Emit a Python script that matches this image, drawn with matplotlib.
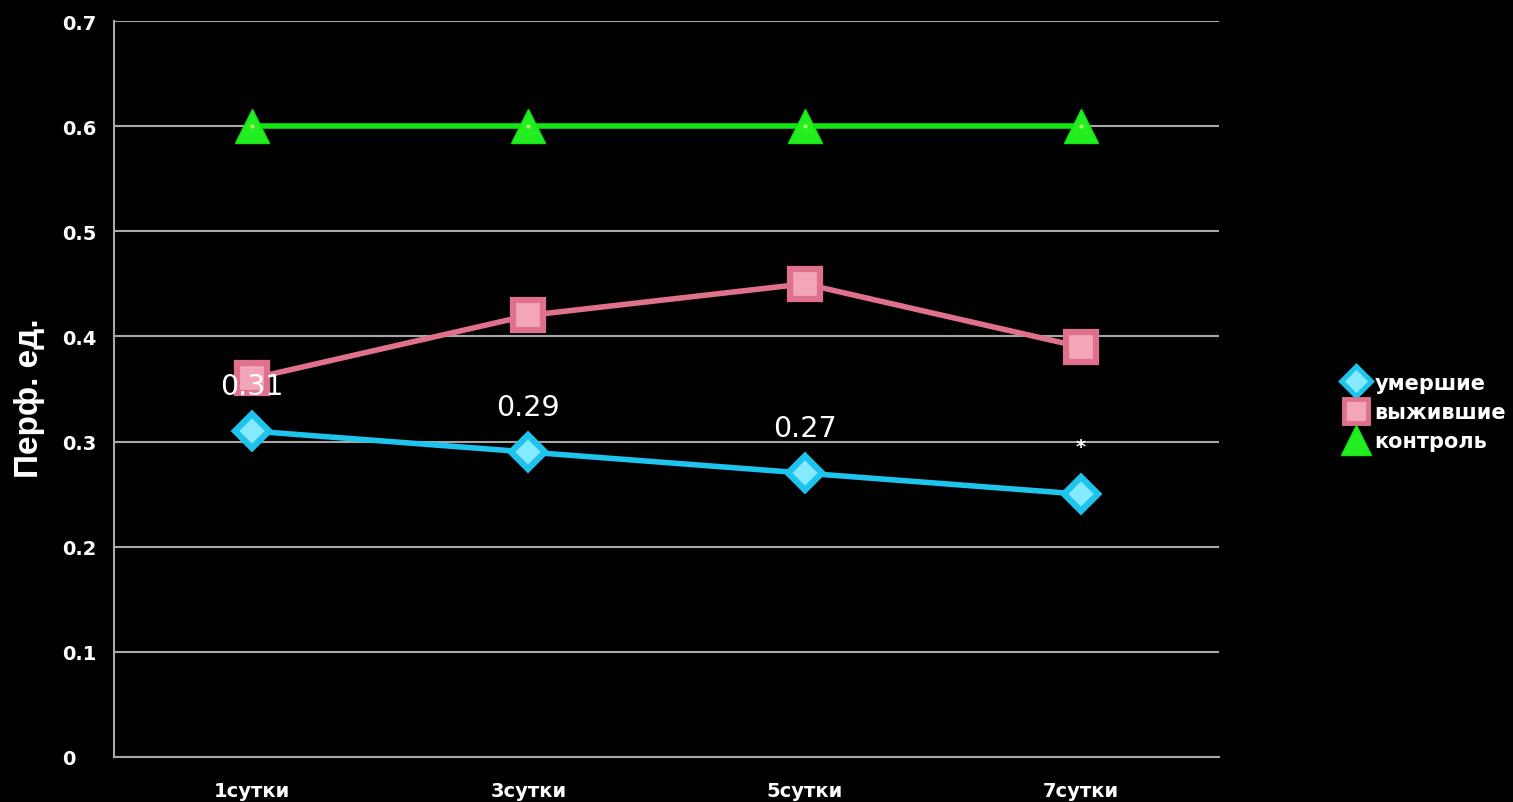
import matplotlib
matplotlib.use("Agg")
import matplotlib.pyplot as plt
from matplotlib.lines import Line2D

categories = ["1сутки", "3сутки", "5сутки", "7сутки"]
died = [0.31, 0.29, 0.27, 0.25]
survived = [0.36, 0.42, 0.45, 0.39]
control = [0.6, 0.6, 0.6, 0.6]
died_labels = ["0.31", "0.29", "0.27", "*"]
yticks = [0, 0.1, 0.2, 0.3, 0.4, 0.5, 0.6, 0.7]
ytick_labels = ["0", "0.1", "0.2", "0.3", "0.4", "0.5", "0.6", "0.7"]

plt.rcParams["font.family"] = ["DejaVu Sans"]

W, H = 1513, 803
fig = plt.figure(figsize=(W / 100, H / 100), dpi=100, facecolor="black")
ax = fig.add_axes([114 / W, 1 - 758 / H, (1219 - 114) / W, (758 - 22) / H])
ax.set_facecolor("black")

x = list(range(len(categories)))

c_died = "#1ec4ee"
c_surv = "#e0718c"
c_ctrl = "#12e612"

ax.plot(x, control, color=c_ctrl, lw=4, marker="^", ms=25,
        markerfacecolor="#22ee22", markeredgecolor=c_ctrl, zorder=5)
ax.plot(x, control, ls="none", marker=".", ms=4, color="#b8f060", zorder=6)
ax.plot(x, survived, color=c_surv, lw=4, marker="s", ms=21,
        markerfacecolor="#f2a6b8", markeredgecolor=c_surv, markeredgewidth=4.5, zorder=5)
ax.plot(x, died, color=c_died, lw=4, marker="D", ms=17,
        markerfacecolor="#86eaff", markeredgecolor=c_died, markeredgewidth=4.5, zorder=5)

for xi, v, lab in zip(x, died, died_labels):
    if lab == "*":
        ax.text(xi, v + 0.045, lab, color="white", fontsize=14, fontweight="bold",
                ha="center", va="center", zorder=7)
    else:
        ax.text(xi, v + 0.043, lab, color="white", fontsize=20.5, ha="center",
                va="center", zorder=7)

ax.set_xlim(-0.5, 3.5)
ax.set_ylim(0, 0.7)
ax.set_yticks(yticks)
ax.set_yticklabels(ytick_labels)
ax.set_xticks(x)
ax.set_xticklabels(categories)
ax.grid(axis="y", color="#a8a8a8", lw=1.5)
ax.set_axisbelow(True)
for s in ["top", "right"]:
    ax.spines[s].set_visible(False)
for s in ["left", "bottom"]:
    ax.spines[s].set_color("#a8a8a8")
    ax.spines[s].set_linewidth(1.5)
ax.tick_params(axis="both", colors="#a8a8a8", length=0)
for lbl in ax.get_xticklabels() + ax.get_yticklabels():
    lbl.set_color("white")
    lbl.set_fontweight("bold")
    lbl.set_fontsize(14)
ax.tick_params(axis="y", pad=37)
for lbl in ax.get_yticklabels():
    lbl.set_horizontalalignment("left")
ax.tick_params(axis="x", pad=17)

fig.text(30 / W, 1 - 398 / H, "Перф. ед.", color="white", fontsize=24,
         fontweight="bold", family=["Liberation Sans", "DejaVu Sans"],
         rotation=90, ha="center", va="center")

handles = [
    Line2D([], [], ls="none", marker="D", ms=15, markerfacecolor="#86eaff",
           markeredgecolor=c_died, markeredgewidth=3.5),
    Line2D([], [], ls="none", marker="s", ms=17, markerfacecolor="#f2a6b8",
           markeredgecolor=c_surv, markeredgewidth=3.5),
    Line2D([], [], ls="none", marker="^", ms=21, markerfacecolor="#22ee22",
           markeredgecolor=c_ctrl),
]
leg = fig.legend(handles, ["умершие", "выжившие", "контроль"],
                 loc="center left", bbox_to_anchor=(1343 / W, 1 - 413 / H),
                 frameon=False, handlelength=1.2, handletextpad=0.3,
                 labelspacing=0.45, borderpad=0, borderaxespad=0,
                 prop={"family": "DejaVu Sans", "weight": "bold", "size": 15})
for t in leg.get_texts():
    t.set_color("white")

fig.savefig("out.png", dpi=100, facecolor="black")
